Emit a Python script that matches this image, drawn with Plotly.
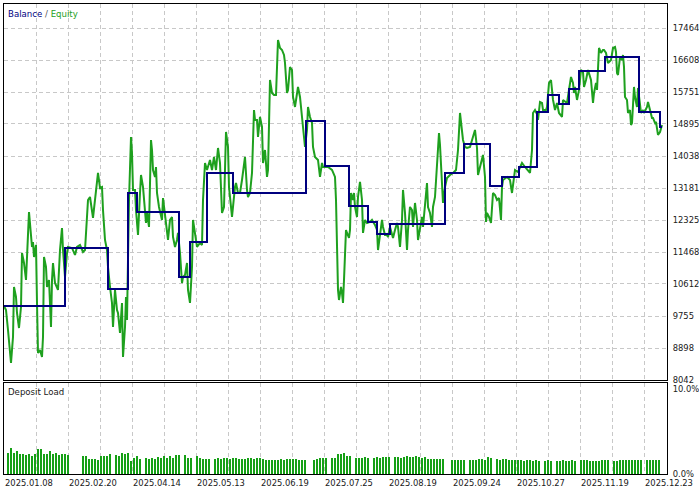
import plotly.graph_objects as go

# ---- data ----
# equity samples: time index (test step) and equity value
eq_t = [0, 2, 4, 7, 9, 10, 12, 13, 15, 17,
        18, 20, 22, 23, 25, 28, 29, 30, 32, 33,
        34, 36, 38, 39, 40, 42, 43, 45, 47, 48,
        49, 51, 53, 54, 56, 58, 59, 61, 63, 64,
        68, 71, 73, 76, 79, 81, 84, 86, 89, 91,
        93, 94, 96, 98, 99, 101, 103, 104, 106, 108,
        109, 111, 113, 114, 116, 118, 119, 121, 122, 123,
        124, 125, 127, 128, 129, 131, 132, 134, 136, 137,
        139, 140, 142, 143, 145, 147, 148, 149, 151, 152,
        153, 155, 158, 159, 161, 163, 164, 166, 168, 169,
        171, 173, 174, 176, 178, 179, 181, 183, 184, 186,
        188, 189, 191, 193, 196, 198, 199, 201, 203, 206,
        208, 210, 212, 214, 216, 218, 220, 222, 224, 225,
        227, 228, 231, 232, 234, 236, 238, 239, 241, 243,
        244, 246, 248, 250, 251, 253, 254, 256, 258, 259,
        261, 263, 264, 266, 268, 270, 272, 274, 276, 278,
        280, 281, 283, 284, 286, 288, 289, 291, 293, 294,
        296, 298, 299, 301, 303, 304, 306, 308, 309, 311,
        314, 316, 318, 319, 321, 324, 328, 331, 332, 333,
        334, 335, 337, 338, 339, 340, 341, 342, 343, 345,
        346, 347, 349, 350, 351, 353, 354, 356, 358, 359,
        361, 363, 366, 368, 371, 373, 374, 376, 378, 379,
        381, 383, 384, 386, 389, 391, 393, 394, 396, 398,
        399, 401, 403, 404, 406, 408, 409, 411, 413, 414,
        416, 418, 419, 421, 423, 424, 426, 428, 429, 431,
        433, 435, 436, 438, 439, 441, 443, 446, 449, 452,
        454, 456, 458, 459, 461, 463, 466, 469, 471, 473,
        474, 476, 478, 479, 481, 482, 483, 485, 487, 488,
        489, 491, 493, 495, 496, 497, 498, 499, 503, 506,
        508, 509, 511, 514, 518, 521, 524, 526, 528, 529,
        531, 533, 534, 536, 538, 539, 542, 543, 545, 547,
        548, 549, 551, 553, 555, 558, 559, 563, 565, 567,
        569, 570, 571, 573, 575, 577, 579, 580, 582, 584,
        587, 589, 590, 592, 593, 595, 597, 599, 600, 602,
        604, 607, 609, 611, 612, 613, 614, 616, 618, 619,
        620, 621, 623, 624, 626, 627, 628, 629, 630, 631,
        633, 634, 636, 637, 639, 640, 643, 644, 646, 648,
        649, 651, 652, 654, 656, 658]
eq_v = [10023, 9916, 9381, 8497, 9193, 10532, 10264, 9836, 9434, 9997,
        11442, 11174, 10719, 11255, 12540, 11603, 11737, 11335, 11656, 10104,
        8765, 8845, 8658, 9193, 11335, 11067, 10532, 10719, 9461, 10719,
        11174, 10639, 10532, 10452, 11522, 12111, 11522, 10800, 11442, 11603,
        11576, 11389, 11603, 11656, 11469, 11522, 12861, 12941, 12379, 12861,
        13316, 13584, 13182, 13209, 12593, 11790, 11522, 11067, 10532, 10104,
        9461, 10452, 9916, 9836, 9301, 10104, 8658, 9461, 10264, 9649,
        11255, 12861, 14547, 14119, 13129, 13129, 12593, 11924, 13048, 13530,
        13209, 12781, 12245, 12513, 12138, 14467, 14199, 13664, 13477, 13744,
        13048, 12674, 12326, 12914, 12513, 12058, 11790, 12326, 12406, 11870,
        11603, 11790, 11978, 11442, 10639, 10800, 10853, 11174, 10452, 10104,
        11067, 12326, 11978, 11603, 11710, 11656, 12861, 13851, 13664, 13932,
        13664, 14012, 13664, 14253, 13851, 12513, 12674, 14681, 14280, 13209,
        12674, 12406, 13209, 13316, 13048, 13048, 13396, 13664, 14012, 13129,
        12941, 13048, 13584, 15270, 15003, 15003, 14547, 15083, 14815, 13851,
        14199, 13477, 13664, 16073, 15725, 15672, 15672, 17144, 16930, 16876,
        16743, 16528, 15725, 15806, 16421, 16341, 15618, 15351, 15725, 15886,
        15618, 15190, 14815, 14280, 14735, 15351, 15083, 14922, 14280, 14012,
        13932, 13477, 13851, 13744, 13744, 13744, 13664, 13477, 12861, 11603,
        10452, 10184, 10532, 10371, 10104, 10719, 11603, 12058, 11978, 11844,
        12058, 13048, 12861, 13048, 12674, 12406, 12941, 13343, 12861, 11978,
        12326, 12245, 12272, 12326, 12192, 12058, 11522, 11978, 12326, 12138,
        11924, 11924, 11870, 12138, 11844, 12058, 12245, 12138, 11603, 12326,
        13129, 12513, 11522, 12058, 12674, 12593, 12138, 12781, 12326, 11790,
        12058, 12406, 12138, 12861, 13316, 12674, 12513, 12138, 12674, 12941,
        13932, 14655, 14333, 13396, 12781, 13209, 13450, 13530, 13584, 13664,
        14199, 15190, 14788, 14467, 14280, 14253, 14280, 14601, 14735, 14253,
        13530, 13744, 13932, 14066, 13477, 12272, 12513, 12406, 12245, 12674,
        13048, 12995, 12861, 12914, 12593, 12326, 13209, 13396, 13477, 13396,
        13048, 13316, 13664, 13611, 13851, 13744, 13664, 13584, 14199, 15190,
        15270, 15163, 15003, 15484, 15458, 15270, 15270, 15351, 15993, 16073,
        15806, 15538, 15270, 15458, 15190, 15083, 15538, 15458, 15806, 16154,
        15993, 15725, 15886, 15538, 15806, 16341, 16288, 15886, 16073, 16341,
        16073, 15458, 15725, 15993, 15806, 16930, 16796, 16876, 16876, 16796,
        16528, 16609, 16930, 16957, 16823, 16261, 16207, 16689, 16609, 16743,
        16421, 15618, 15538, 15190, 15270, 14869, 14922, 15618, 15886, 15618,
        15351, 15859, 15404, 15190, 15270, 15190, 15351, 15484, 15270, 15056,
        15056, 14922, 14949, 14601, 14681, 14869]

# balance change points
bal_t = [0, 61, 104, 124, 133, 175, 186, 203, 229, 302,
         321, 345, 364, 373, 386, 441, 460, 486, 498, 515,
         533, 544, 555, 565, 575, 601, 635, 656, 658]
bal_v = [10023, 11576, 10478, 13048, 12539, 10799, 11736, 13583, 13048, 14975,
         13771, 12700, 12272, 11950, 12218, 13583, 14360, 13235, 13476, 13744,
         15216, 15671, 15430, 15832, 16314, 16689, 15216, 14815, 14815]

# deposit load per period (%)
load_v = [2.5, 3.0, 2.5, 2.7, 2.3, 2.3, 2.2, 2.4, 2.1, 2.3, 2.9, 2.9, 2.3, 2.4, 2.7, 2.4, 2.5, 2.2, 2.3, 2.3, 2.2,
          0, 0, 0, 0,
          2.1, 2.1, 1.8, 1.8, 1.8, 1.7, 2.1, 2.1, 2.1, 2.3,
          0,
          2.2, 2.1, 2.5, 2.3, 2.5, 1.5, 1.9, 2.1, 1.8,
          0,
          1.9, 1.8, 1.9, 1.8, 2.0, 1.9, 2.1, 1.9, 2.1, 1.9, 2.2, 2.2,
          0,
          2.2, 1.9, 1.9,
          0,
          2.1, 1.9, 1.8, 1.8, 1.8,
          0,
          1.8, 1.9, 1.8, 1.9, 1.9, 1.8, 1.9, 1.9, 1.8,
          1.8, 1.8, 1.9, 1.9, 1.8, 1.9, 1.9, 1.8, 1.7, 1.7, 1.7, 1.7, 1.7, 1.8, 1.7, 1.8, 1.8, 1.8, 1.8, 1.7, 1.7, 1.7,
          0, 0,
          1.7, 1.8, 1.9, 1.9, 1.9,
          0,
          1.9, 1.9, 2.4, 2.4, 2.5, 2.1, 2.1,
          0,
          1.9, 1.9, 1.9, 2.0, 1.9,
          0,
          1.9, 2.0, 1.9, 2.0, 2.0, 2.0,
          0,
          2.0, 2.0, 1.9, 2.0, 2.1, 2.0, 2.0, 2.1, 2.0, 1.9, 2.0, 1.8, 1.8, 1.8, 1.8, 1.8, 1.8,
          0, 0,
          1.7, 1.7, 1.6, 1.7, 1.7,
          0,
          1.7, 1.7, 1.7, 1.8, 1.8, 1.7, 2.0, 1.9,
          0,
          1.8, 1.7, 1.8, 1.8, 1.7, 1.7, 1.7, 1.6, 1.6, 1.5, 1.6, 1.6, 1.5, 1.6, 1.5,
          0,
          1.5, 1.6, 1.5,
          0,
          1.5, 1.5, 1.6, 1.5, 1.5, 1.6, 1.5,
          0,
          1.6, 1.6, 1.6, 1.5, 1.5, 1.5, 1.5, 1.6, 1.6, 1.6,
          0,
          1.5, 1.5, 1.6, 1.6, 1.7, 1.7, 1.6, 1.6, 1.6, 1.6,
          0,
          1.6, 1.7, 1.7, 1.7, 1.7]
load_start = 4
load_step = 3
load_t = [load_start + load_step * i for i in range(len(load_v))]

# axis ticks
y_ticks = [8042, 8898, 9755, 10612, 11468, 12325, 13181, 14038, 14895, 15751, 16608, 17464]
grid_t = list(range(0, 660, 32))
date_t = [0, 64, 128, 192, 256, 320, 384, 448, 512, 576, 640]
date_labels = ["2025.01.08", "2025.02.20", "2025.04.14", "2025.05.13", "2025.06.19",
               "2025.07.25", "2025.08.19", "2025.09.24", "2025.10.27", "2025.11.19", "2025.12.23"]

assert len(eq_t) == len(eq_v)
assert len(bal_t) == len(bal_v)

FONT = "DejaVu Sans"
GRID = "#c8c8c8"
TXT = "#202020"
TICKFONT = dict(family=FONT, size=8.4, color=TXT)

fig = go.Figure()
fig.add_trace(go.Scatter(x=eq_t, y=eq_v, mode="lines", xaxis="x", yaxis="y",
                         line=dict(color="#1ea01e", width=2), hoverinfo="skip"))
fig.add_trace(go.Scatter(x=bal_t, y=bal_v, mode="lines", xaxis="x", yaxis="y",
                         line=dict(color="#00007f", width=2, shape="hv"), hoverinfo="skip"))
fig.add_trace(go.Bar(x=load_t, y=load_v, width=2, xaxis="x2", yaxis="y2",
                     marker=dict(color="#16a016", line=dict(width=0)), hoverinfo="skip"))

axis_common = dict(showline=True, mirror=True, linecolor="black", linewidth=1,
                   zeroline=False, ticks="", fixedrange=True)
grid_common = dict(showgrid=True, gridcolor=GRID, griddash="4px,3px", gridwidth=1)

fig.update_layout(
    width=699, height=489,
    margin=dict(l=4, r=32, t=4, b=15),
    paper_bgcolor="white", plot_bgcolor="white",
    showlegend=False, hovermode=False, bargap=0,
    font=dict(family=FONT, size=9, color=TXT),
    xaxis=dict(domain=[0, 1], anchor="y", range=[0, 663], tickvals=grid_t,
               showticklabels=False, **grid_common, **axis_common),
    yaxis=dict(domain=[0.2, 1], anchor="x", side="right", range=[8042, 18107],
               tickvals=y_ticks, ticktext=[str(v) for v in y_ticks],
               ticklabelstandoff=3, tickfont=TICKFONT,
               automargin=False, **grid_common, **axis_common),
    xaxis2=dict(domain=[0, 1], anchor="y2", range=[0, 663], tickvals=grid_t,
                showticklabels=False, **grid_common, **axis_common),
    yaxis2=dict(domain=[0, 0.1936], anchor="x2", side="right", range=[0, 10.7],
                tickvals=[0, 10], ticktext=["0.0%", "10.0%"], showgrid=False,
                ticklabelstandoff=3, tickfont=TICKFONT,
                automargin=False, **axis_common),
)

annotations = [
    dict(text='<span style="color:#00007f">Balance</span> / <span style="color:#1ea01e">Equity</span>',
         xref="paper", yref="paper", x=0, y=1, xanchor="left", yanchor="top",
         xshift=2, yshift=-3, showarrow=False, font=dict(family=FONT, size=8.6, color="#555555")),
    dict(text="Deposit Load", xref="paper", yref="paper", x=0, y=0.1936,
         xanchor="left", yanchor="top", xshift=2, yshift=-2, showarrow=False,
         font=dict(family=FONT, size=8.6, color=TXT)),
]
for t, lab in zip(date_t, date_labels):
    annotations.append(dict(text=lab, xref="x2", yref="paper", x=t, y=0,
                            xanchor="left", yanchor="top", yshift=-2, xshift=-1,
                            showarrow=False, font=TICKFONT))
fig.update_layout(annotations=annotations)

fig.write_html("out.html", config={"staticPlot": True},
               post_script="document.body.style.margin='0';document.body.style.overflow='hidden';")
